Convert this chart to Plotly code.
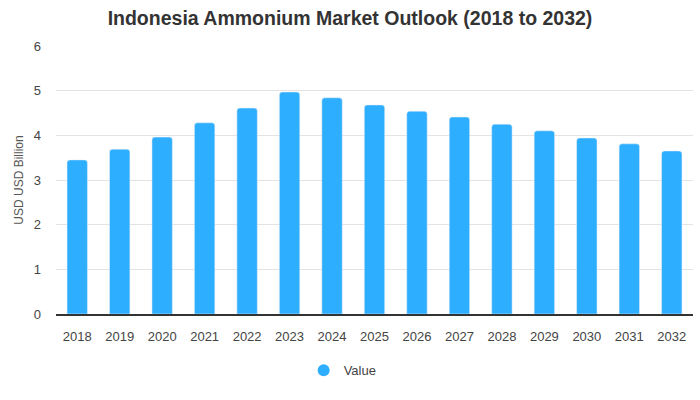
import plotly.graph_objects as go

years = ["2018", "2019", "2020", "2021", "2022", "2023", "2024", "2025",
         "2026", "2027", "2028", "2029", "2030", "2031", "2032"]
values = [3.45, 3.69, 3.96, 4.28, 4.61, 4.97, 4.84, 4.68,
          4.54, 4.41, 4.25, 4.10, 3.94, 3.81, 3.65]

color = "#2EAEFE"

fig = go.Figure()
fig.add_trace(go.Bar(
    x=years, y=values, name="Value", marker=dict(color=color, cornerradius=3),
    width=0.48, showlegend=False,
))
fig.add_trace(go.Scatter(
    x=[None], y=[None], mode="markers", name="Value",
    marker=dict(color=color, size=12, symbol="circle"),
))

fig.update_layout(
    width=700, height=400,
    margin=dict(l=56, r=7, t=46, b=86),
    paper_bgcolor="white", plot_bgcolor="white",
    font=dict(family="Liberation Sans, Arial, sans-serif", color="#444", size=13),
    title=dict(text="<b>Indonesia Ammonium Market Outlook (2018 to 2032)</b>",
               x=0.5, xanchor="center", y=0.955, yanchor="middle",
               font=dict(size=19.5, color="#333")),
    xaxis=dict(type="category", showline=True, linecolor="#333", linewidth=1.5,
               ticks="", ticklabelstandoff=10, tickfont=dict(size=13, color="#444"),
               showgrid=False),
    yaxis=dict(range=[0, 6], dtick=1, showgrid=True, gridcolor="#e3e3e3",
               zeroline=False, ticks="", ticklabelstandoff=14,
               tickfont=dict(size=13, color="#444"),
               title=dict(text="USD USD Billion", font=dict(size=12, color="#555"),
                          standoff=7)),
    legend=dict(orientation="h", x=0.45, xanchor="center", y=-0.21, yanchor="middle",
                itemwidth=30, font=dict(size=13, color="#444")),
    bargap=0.52,
)

fig.write_html("out.html")
